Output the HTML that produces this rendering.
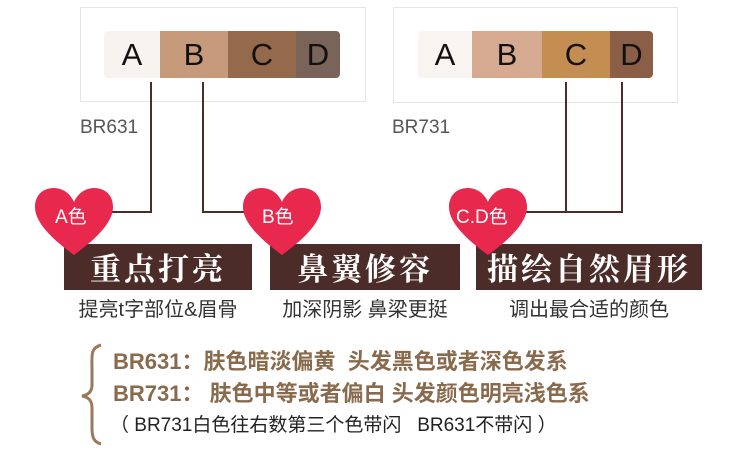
<!DOCTYPE html>
<html><head><meta charset="utf-8"><style>
body{margin:0;width:750px;height:465px;background:#fff;position:relative;overflow:hidden;font-family:"Liberation Sans","Noto Sans CJK SC",sans-serif}
.a{position:absolute}
.box{border:1px solid #e6e4e6}
.seg{position:absolute;top:0;height:47px;line-height:47px;text-align:center;font-size:31px;color:#111}
.bar{background:#4b2c28;color:#fff;font-family:"Noto Serif CJK SC",serif;font-size:31px;font-weight:bold;text-align:center;line-height:46px;height:46px;top:244px;letter-spacing:3px}
.sub{font-size:20px;color:#333;top:293px;text-align:center;white-space:nowrap}
.lbl{font-size:19px;color:#555;top:117px}
.ln{background:#4b2c28}
.bt{color:#8a6a4c;font-weight:bold;font-size:22px;left:113px;white-space:nowrap}
</style></head><body>
<div class="a box" style="left:80px;top:7px;width:284px;height:93px"></div>
<div class="a box" style="left:393px;top:7px;width:283px;height:94px"></div>
<div class="a" style="left:104px;top:31px;width:236px;height:47px;border-radius:4px;overflow:hidden">
<div class="seg" style="left:0;width:56px;background:#f7f3ee">A</div>
<div class="seg" style="left:56px;width:68px;background:#c89a7c">B</div>
<div class="seg" style="left:124px;width:68px;background:#956a4c">C</div>
<div class="seg" style="left:192px;width:44px;background:#7a6459">D</div></div>
<div class="a" style="left:418px;top:31px;width:235px;height:47px;border-radius:4px;overflow:hidden">
<div class="seg" style="left:0;width:54px;background:#f8f5f0">A</div>
<div class="seg" style="left:54px;width:70px;background:#d6aa90">B</div>
<div class="seg" style="left:124px;width:68px;background:#c48d52">C</div>
<div class="seg" style="left:192px;width:43px;background:#8b5e48">D</div></div>
<div class="a lbl" style="left:80px">BR631</div>
<div class="a lbl" style="left:392px">BR731</div>
<div class="a ln" style="left:150px;top:82px;width:2px;height:131px"></div>
<div class="a ln" style="left:110px;top:211px;width:42px;height:2px"></div>
<div class="a ln" style="left:202px;top:82px;width:2px;height:131px"></div>
<div class="a ln" style="left:202px;top:211px;width:45px;height:2px"></div>
<div class="a ln" style="left:565px;top:82px;width:2px;height:131px"></div>
<div class="a ln" style="left:621px;top:82px;width:2px;height:131px"></div>
<div class="a ln" style="left:524px;top:211px;width:99px;height:2px"></div>
<div class="a bar" style="left:64px;width:188px">重点打亮</div>
<div class="a bar" style="left:270px;width:190px">鼻翼修容</div>
<div class="a bar" style="left:476px;width:226px">描绘自然眉形</div>
<div class="a sub" style="left:44px;width:228px">提亮t字部位&amp;眉骨</div>
<div class="a sub" style="left:260px;width:210px">加深阴影 鼻梁更挺</div>
<div class="a sub" style="left:476px;width:226px">调出最合适的颜色</div>
<svg class="a" style="left:0;top:0" width="750" height="465">
<defs><path id="h" d="M39 67C10 46 0 31 0 19C0 7 8 0 19 0C29 0 36 7 39 14C42 7 49 0 59 0C70 0 78 7 78 19C78 31 68 46 39 67Z" fill="#e8284c"/></defs>
<use href="#h" x="35" y="188"/><use href="#h" x="243" y="188"/><use href="#h" x="449" y="188"/>
<g fill="#fff" font-size="19" font-family="Liberation Sans,Noto Sans CJK SC,sans-serif">
<text x="55" y="223">A色</text><text x="262" y="223">B色</text><text x="456" y="223">C.D色</text></g>
<path d="M101 345C90 348 92 356 92 370L92 385C92 392 88 395 82 396C88 397 92 400 92 408L92 428C92 438 94 442 101 444" fill="none" stroke="#9b7a5c" stroke-width="3"/>
</svg>
<div class="a bt" style="top:344px">BR631：肤色暗淡偏黄&nbsp; 头发黑色或者深色发系</div>
<div class="a bt" style="top:376px">BR731： 肤色中等或者偏白 头发颜色明亮浅色系</div>
<div class="a" style="left:110px;top:410px;font-size:19px;color:#222;white-space:nowrap">（ BR731白色往右数第三个色带闪&nbsp;&nbsp; BR631不带闪 ）</div>
</body></html>
